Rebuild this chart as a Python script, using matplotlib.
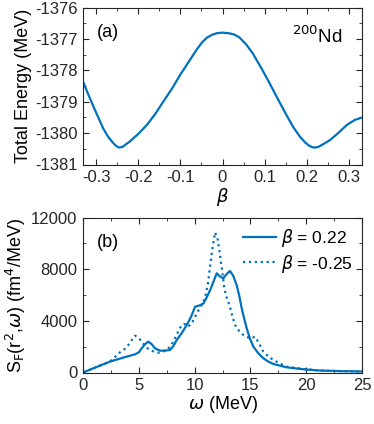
import numpy as np
import matplotlib
matplotlib.use('Agg')
import matplotlib.pyplot as plt
from matplotlib.ticker import MultipleLocator

plt.rcParams['font.family'] = ['Liberation Sans', 'DejaVu Sans']
plt.rcParams['mathtext.fontset'] = 'dejavusans'

BLUE = '#0072BD'

# panel (a): total energy vs deformation
beta = [-0.332, -0.32, -0.307, -0.295, -0.284, -0.272, -0.260, -0.252, -0.246, -0.238,
        -0.221, -0.20, -0.180, -0.16, -0.141, -0.12, -0.101, -0.08, -0.061, -0.048,
        -0.037, -0.025, -0.014, 0.0, 0.015, 0.028, 0.040, 0.056, 0.072, 0.092, 0.112,
        0.132, 0.152, 0.168, 0.184, 0.196, 0.206, 0.214, 0.220, 0.228, 0.240, 0.256,
        0.276, 0.296, 0.315, 0.333]
energy = [-1378.36, -1378.75, -1379.16, -1379.52, -1379.85, -1380.12, -1380.32, -1380.42,
          -1380.46, -1380.44, -1380.27, -1380.02, -1379.74, -1379.39, -1379.0, -1378.58,
          -1378.15, -1377.72, -1377.33, -1377.1, -1376.96, -1376.87, -1376.82, -1376.8,
          -1376.82, -1376.86, -1376.95, -1377.17, -1377.46, -1377.92, -1378.41,
          -1378.92, -1379.42, -1379.8, -1380.11, -1380.29, -1380.4, -1380.45, -1380.46,
          -1380.44, -1380.35, -1380.22, -1379.99, -1379.74, -1379.58, -1379.5]

# panel (b): strength functions
omega_p = [0, 1.2, 2.4, 3.6, 4.66, 5.0, 5.26, 5.55, 5.85, 6.15, 6.45, 6.9, 7.35, 7.8,
           8.1, 8.4, 8.85, 9.3, 9.7, 10.04, 10.4, 10.8, 11.1, 11.4, 11.7, 11.98, 12.25,
           12.57, 12.85, 13.17, 13.45, 13.77, 14.0, 14.22, 14.45, 14.67, 14.95, 15.26,
           15.7, 16.16, 16.6, 17.05, 18.25, 19.74, 21.24, 23.0, 25.0]
s_pos = [0, 420, 840, 1150, 1410, 1560, 1870, 2180, 2390, 2200, 1870, 1690, 1700, 1740,
         2050, 2520, 3050, 3680, 4350, 5090, 5180, 5350, 5850, 6390, 7050, 7680, 7450,
         7290, 7600, 7860, 7500, 6770, 5950, 4970, 4150, 3420, 2650, 2000, 1500, 1100,
         850, 660, 400, 250, 150, 110, 80]
omega_n = [0, 1.2, 2.4, 3.3, 3.7, 4.06, 4.4, 4.66, 4.95, 5.26, 5.6, 6.0, 6.4, 6.75, 7.1,
           7.5, 7.9, 8.24, 8.55, 8.84, 9.15, 9.44, 9.8, 10.2, 10.6, 10.93, 11.2, 11.4,
           11.62, 11.83, 12.05, 12.28, 12.48, 12.66, 12.87, 13.17, 13.4, 13.62, 14.0,
           14.37, 14.7, 14.96, 15.2, 15.41, 15.75, 16.16, 16.6, 17.05, 18.25, 19.74,
           21.24, 23.0, 25.0]
s_neg = [0, 420, 840, 1550, 1800, 2130, 2550, 2850, 2700, 2390, 2000, 1740, 1600, 1530,
         1580, 1740, 2100, 2650, 3200, 3680, 3750, 3550, 3900, 4580, 5200, 5740, 6900,
         8320, 9700, 10850, 10400, 9090, 7800, 6520, 5800, 5090, 4300, 3680, 3200, 2900,
         2750, 2650, 2700, 2770, 2300, 1610, 1250, 970, 450, 270, 150, 110, 80]


def style(ax):
    ax.tick_params(which='both', direction='in', top=True, right=True, labelsize=12,
                   colors='#262626', pad=4)
    ax.tick_params(which='major', length=4.5)
    ax.tick_params(which='minor', length=2.5)
    for s in ax.spines.values():
        s.set_color('#262626')
        s.set_linewidth(0.8)


fig = plt.figure(figsize=(3.74, 4.24), dpi=100)
ax1 = fig.add_axes([83/374, 1-164.5/424, 279/374, 157/424])
ax2 = fig.add_axes([83/374, 1-372.5/424, 279/374, 155/424])

ax1.plot(beta, energy, color=BLUE, lw=1.6)
ax1.set_xlim(-0.332, 0.332)
ax1.set_ylim(-1381, -1376)
ax1.xaxis.set_minor_locator(MultipleLocator(0.05))
ax1.yaxis.set_minor_locator(MultipleLocator(0.5))
ax1.set_xticks([-0.3, -0.2, -0.1, 0, 0.1, 0.2, 0.3])
ax1.set_xticklabels(['-0.3', '-0.2', '-0.1', '0', '0.1', '0.2', '0.3'])
ax1.set_yticks([-1381, -1380, -1379, -1378, -1377, -1376])
ax1.set_yticklabels(['-1381', '-1380', '-1379', '-1378', '-1377', '-1376'])
ax1.set_xlabel(r'$\beta$', fontsize=13, labelpad=1)
ax1.set_ylabel('Total Energy (MeV)', fontsize=13, labelpad=2)
ax1.text(0.05, 0.84, '(a)', transform=ax1.transAxes, fontsize=13, va='center')
ax1.text(0.93, 0.82, r'$^{200}$Nd', transform=ax1.transAxes, fontsize=13.5,
         va='center', ha='right')
style(ax1)

ax2.plot(omega_p, s_pos, color=BLUE, lw=1.6, label=r'$\beta$ = 0.22')
ax2.plot(omega_n, s_neg, color=BLUE, lw=1.6, ls=':', label=r'$\beta$ = -0.25')
ax2.set_xlim(0, 25)
ax2.set_ylim(0, 12000)
ax2.xaxis.set_major_locator(MultipleLocator(5))
ax2.xaxis.set_minor_locator(MultipleLocator(2.5))
ax2.yaxis.set_major_locator(MultipleLocator(4000))
ax2.yaxis.set_minor_locator(MultipleLocator(2000))
ax2.set_xlabel(r'$\omega$ (MeV)', fontsize=13, labelpad=1)
ax2.set_ylabel(r'S$_\mathrm{F}$(r$^2$,$\omega$) (fm$^4$/MeV)', fontsize=13, labelpad=2)
ax2.text(0.05, 0.84, '(b)', transform=ax2.transAxes, fontsize=13, va='center')
ax2.legend(loc='upper right', frameon=False, fontsize=12.5, handlelength=1.9,
           handletextpad=0.25, borderaxespad=0.15, labelspacing=0.2)
style(ax2)

fig.savefig('out.png', dpi=100)
